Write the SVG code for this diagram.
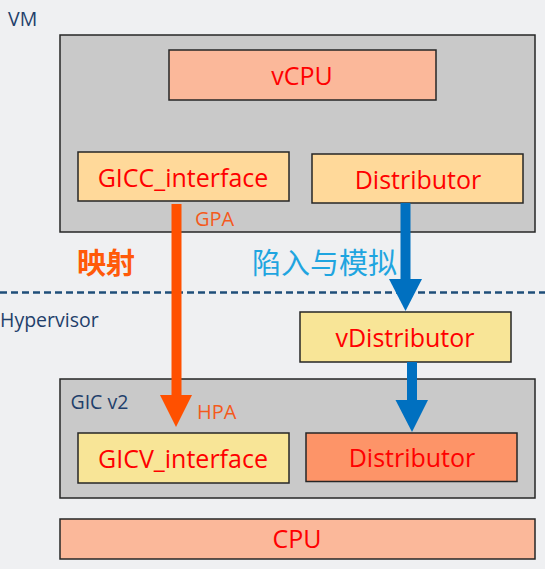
<svg xmlns="http://www.w3.org/2000/svg" width="545" height="569" viewBox="0 0 545 569">
<style>
.box{stroke:#262626;stroke-width:1.5}
.grey{fill:#c9c9c9}
.lbl{font-family:"Open Sans","Noto Sans","Liberation Sans",sans-serif;font-size:25px;fill:#ff0000;text-anchor:middle}
.tag{font-family:"Open Sans","Noto Sans","Liberation Sans",sans-serif;font-size:19.5px;fill:#1f3f6b}
.addr{font-family:"Open Sans","Noto Sans","Liberation Sans",sans-serif;font-size:20px;fill:#f45a1c}
.cjk{font-family:"Noto Sans CJK SC",sans-serif;font-size:29px}
</style>
<rect width="545" height="569" fill="#eff0f2"/>
<g id="vm">
<text class="tag" x="8" y="26">VM</text>
<rect class="box grey" x="60" y="35" width="475" height="197"/>
</g>
<g id="vcpu">
<rect class="box" x="169" y="50" width="267" height="50" fill="#fbb89a"/>
<text class="lbl" x="302" y="85">vCPU</text>
</g>
<g id="gicc">
<rect class="box" x="78" y="152" width="211" height="49" fill="#ffd99a"/>
<text class="lbl" x="183" y="186.5">GICC_interface</text>
</g>
<g id="vm-distributor">
<rect class="box" x="312" y="154" width="211" height="49" fill="#ffd99a"/>
<text class="lbl" x="418" y="189">Distributor</text>
</g>
<g id="hypervisor-line">
<line x1="0" y1="292.5" x2="545" y2="292.5" stroke="#1f4e79" stroke-width="2.5" stroke-dasharray="7,4"/>
<text class="tag" x="0" y="327">Hypervisor</text>
</g>
<g id="vdistributor">
<rect class="box" x="300" y="312" width="211" height="50" fill="#f8e597"/>
<text class="lbl" x="405" y="347">vDistributor</text>
</g>
<g id="gicv2">
<rect class="box grey" x="60" y="379" width="475" height="119"/>
<text class="tag" x="70.5" y="409">GIC v2</text>
</g>
<g id="gicv">
<rect class="box" x="78" y="433" width="211" height="50" fill="#f8e597"/>
<text class="lbl" x="183" y="467.5">GICV_interface</text>
</g>
<g id="hw-distributor">
<rect class="box" x="306" y="433" width="211" height="48.5" fill="#fd9468"/>
<text class="lbl" x="412" y="466.5">Distributor</text>
</g>
<g id="cpu">
<rect class="box" x="60" y="519" width="475" height="40" fill="#fbb89a"/>
<text class="lbl" x="297" y="548">CPU</text>
</g>
<g id="connectors">
<rect x="171.5" y="204" width="10" height="192" fill="#ff5000"/>
<polygon points="160,395 192,395 176,427" fill="#ff5000"/>
<text class="addr" x="195" y="226">GPA</text>
<text class="addr" x="197" y="419">HPA</text>
<text class="cjk" x="77" y="274" fill="#ff5a0a" font-weight="bold">映射</text>
<rect x="400.5" y="203" width="10" height="77" fill="#0070c0"/>
<polygon points="389,279 422,279 405.5,311" fill="#0070c0"/>
<text class="cjk" x="252" y="274" fill="#1fa5e0">陷入与模拟</text>
<rect x="407" y="362" width="10" height="39" fill="#0070c0"/>
<polygon points="395.5,400 428,400 412,432" fill="#0070c0"/>
</g>
</svg>
